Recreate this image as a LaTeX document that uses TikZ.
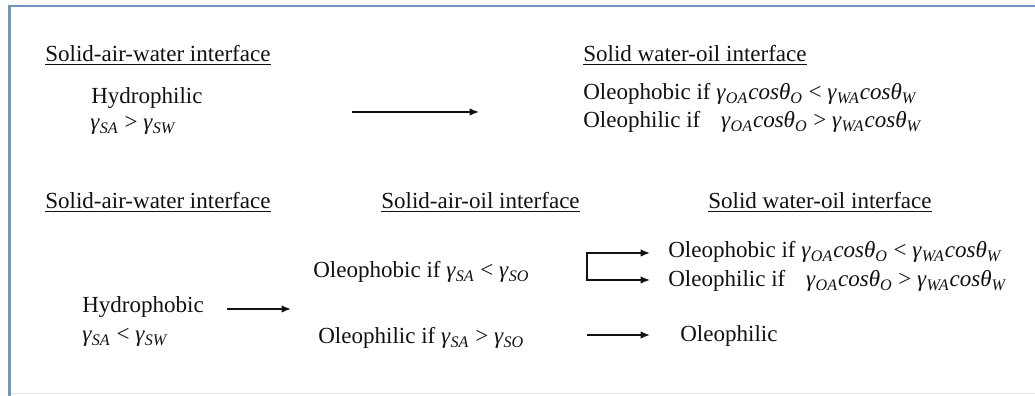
\documentclass[tikz,border=0pt]{standalone}
\usepackage{fontspec}
\setmainfont{Liberation Serif}
\usetikzlibrary{arrows.meta}
\definecolor{frm}{HTML}{7396BE}
\definecolor{frmlo}{HTML}{E2E5E9}
\definecolor{ink}{HTML}{111111}
\newcommand{\gsub}[1]{\textit{γ}\textsubscript{\textit{#1}}}
\newcommand{\csub}[1]{\textit{cosθ}\textsubscript{\textit{#1}}}
\tikzset{
  hd/.style   ={anchor=base west, inner sep=0pt, text=ink},
  txt/.style  ={anchor=base west, inner sep=0pt, text=ink},
  arr/.style  ={-{Latex[length=1.9mm,width=1.5mm]}, line width=0.8pt, draw=ink},
  brk/.style  ={{Latex[length=1.9mm,width=1.5mm]}-{Latex[length=1.9mm,width=1.5mm]},
                line width=0.8pt, draw=ink},
  frame/.style={draw=frm, line width=1.3pt},
}

\begin{document}
\begin{tikzpicture}[font=\fontsize{13.1}{15.7}\selectfont]

  \useasboundingbox (0,0) rectangle (20.7,7.92);

  % ---- frame ----
  \draw[draw=frmlo, line width=0.8pt] (0.19,0.05) -- (20.7,0.05);
  \draw[frame] (20.7,7.8) -- (0.19,7.8) -- (0.19,0);

  % ================= hydrophilic case =================
  \node[hd] (hwa1) at (0.9,6.68)  {\underline{Solid-air-water interface}};
  \node[hd] (hwo1) at (11.66,6.68) {\underline{Solid water-oil interface}};

  \node[txt] (hphil) at (1.82,5.84) {Hydrophilic};
  \node[txt] (gphil) at (1.80,5.32) {\gsub{SA} > \gsub{SW}};

  \coordinate (a1s) at (7.04,5.68);
  \coordinate (a1e) at (9.58,5.68);
  \draw[arr] (a1s) -- (a1e);

  \node[txt] (wo1) at (11.66,5.92)
        {Oleophobic if \gsub{OA}\csub{O} < \gsub{WA}\csub{W}};
  \node[txt] (wo2) at (11.66,5.36)
        {Oleophilic if\hspace{0.9em}\gsub{OA}\csub{O} > \gsub{WA}\csub{W}};

  % ================= hydrophobic case =================
  \node[hd] (hwa2) at (0.9,3.74)   {\underline{Solid-air-water interface}};
  \node[hd] (hao)  at (7.62,3.74)  {\underline{Solid-air-oil interface}};
  \node[hd] (hwo2) at (14.16,3.74) {\underline{Solid water-oil interface}};

  \node[txt] (hphob) at (1.64,1.66) {Hydrophobic};
  \node[txt] (gphob) at (1.64,1.08) {\gsub{SA} < \gsub{SW}};

  \coordinate (a2s) at (4.54,1.74);
  \coordinate (a2e) at (5.82,1.74);
  \draw[arr] (a2s) -- (a2e);

  \node[txt] (ao1) at (6.26,2.36) {Oleophobic if \gsub{SA} < \gsub{SO}};
  \node[txt] (ao2) at (6.36,1.04) {Oleophilic if \gsub{SA} > \gsub{SO}};

  % bracket: oleophobic branch splits in two
  \coordinate (b1e) at (13.0,2.86);
  \coordinate (b1)  at (11.74,2.86);
  \coordinate (b2)  at (11.74,2.32);
  \coordinate (b2e) at (13.0,2.32);
  \draw[brk] (b1e) -- (b1) -- (b2) -- (b2e);

  \node[txt] (wo3) at (13.36,2.76)
        {Oleophobic if \gsub{OA}\csub{O} < \gsub{WA}\csub{W}};
  \node[txt] (wo4) at (13.36,2.18)
        {Oleophilic if\hspace{0.9em}\gsub{OA}\csub{O} > \gsub{WA}\csub{W}};

  % oleophilic branch
  \coordinate (a3s) at (11.74,1.22);
  \coordinate (a3e) at (13.0,1.22);
  \draw[arr] (a3s) -- (a3e);
  \node[txt] (wo5) at (13.6,1.08) {Oleophilic};

\end{tikzpicture}
\end{document}
